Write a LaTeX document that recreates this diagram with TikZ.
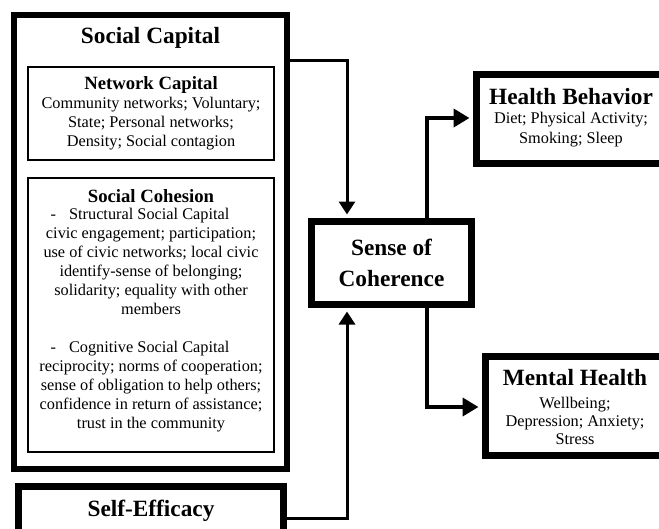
\documentclass[tikz,border=0pt]{standalone}
\usepackage{fontspec}
\setmainfont{Liberation Serif}
\usetikzlibrary{positioning,arrows.meta}
\tikzset{
  bigbox/.style={draw, line width=6pt},
  smallbox/.style={draw, line width=1.3pt},
  headtext/.style={font=\fontsize{23.3}{31}\selectfont\bfseries, align=center},
  subheadtext/.style={font=\fontsize{18.7}{22}\selectfont\bfseries},
  bodytext/.style={font=\fontsize{16.3}{19}\selectfont, align=center},
  link/.style={-{Triangle[length=13pt,width=16pt]}, line width=3pt},
  boldlink/.style={-{Triangle[length=16pt,width=18pt]}, line width=4pt},
}

\begin{document}
\begin{tikzpicture}[x=1pt, y=-1pt]
  \useasboundingbox (0,0) rectangle (659,528);
  \clip (0,0) rectangle (659,528);

  % social capital column
  \node[bigbox, minimum width=273pt, minimum height=454pt] (social) at (150.5,242) {};
  \node[headtext] (socialtitle) at (150.5,38) {Social Capital};
  \node[smallbox, minimum width=246pt, minimum height=93pt] (network) at (151,113.5) {};
  \node[subheadtext] (networktitle) at (151,85) {Network Capital};
  \node[bodytext] (networktext) at (151,124) {Community networks; Voluntary;\\
    State; Personal networks;\\ Density; Social contagion};
  \node[smallbox, minimum width=246pt, minimum height=274pt] (cohesion) at (151,315) {};
  \node[subheadtext] (cohesiontitle) at (151,196) {Social Cohesion};
  \node[bodytext] (cohesiontext) at (151,320.5) {-\hspace{13pt}Structural Social Capital\hspace{22pt}\mbox{}\\
    civic engagement; participation;\\ use of civic networks; local civic\\
    identify-sense of belonging;\\ solidarity; equality with other\\ members\\[19pt]
    -\hspace{13pt}Cognitive Social Capital\hspace{22pt}\mbox{}\\
    reciprocity; norms of cooperation;\\ sense of obligation to help others;\\
    confidence in return of assistance;\\ trust in the community};

  \node[bigbox, line width=7pt, minimum width=265pt, minimum height=73.5pt] (selfefficacy) at (151,523.25) {};
  \node[headtext] (selftitle) at (151,511) {Self-Efficacy};

  % centre and outcomes
  \node[bigbox, line width=7pt, minimum width=160pt, minimum height=83pt, headtext] (sense) at (391.5,263) {Sense of\\Coherence};

  \node[bigbox, line width=7pt, minimum width=189pt, minimum height=89pt] (health) at (571,119) {};
  \node[headtext] (healthtitle) at (571,97) {Health Behavior};
  \node[bodytext, font=\fontsize{16.3}{20}\selectfont] (healthtext) at (571,130) {Diet; Physical Activity;\\ Smoking; Sleep};

  \node[bigbox, line width=7pt, minimum width=179pt, minimum height=99pt] (mental) at (575,406) {};
  \node[headtext] (mentaltitle) at (575,378) {Mental Health};
  \node[bodytext, font=\fontsize{16.3}{18}\selectfont] (mentaltext) at (575,420.5) {Wellbeing;\\ Depression; Anxiety;\\ Stress};

  % connectors
  \coordinate (upper) at (347,60);
  \coordinate (lower) at (347,518);
  \coordinate (tohealth) at (427,118);
  \coordinate (tomental) at (427,407);
  \draw[link, shorten >=3.5pt] (social.east |- upper) -| (sense.north -| upper);
  \draw[link, shorten >=3.5pt] (selfefficacy.east |- lower) -| (sense.south -| lower);
  \draw[boldlink, shorten >=3.5pt] (sense.north -| tohealth) |- (health.west |- tohealth);
  \draw[boldlink, shorten >=3.5pt] (sense.south -| tomental) |- (mental.west |- tomental);
\end{tikzpicture}
\end{document}
